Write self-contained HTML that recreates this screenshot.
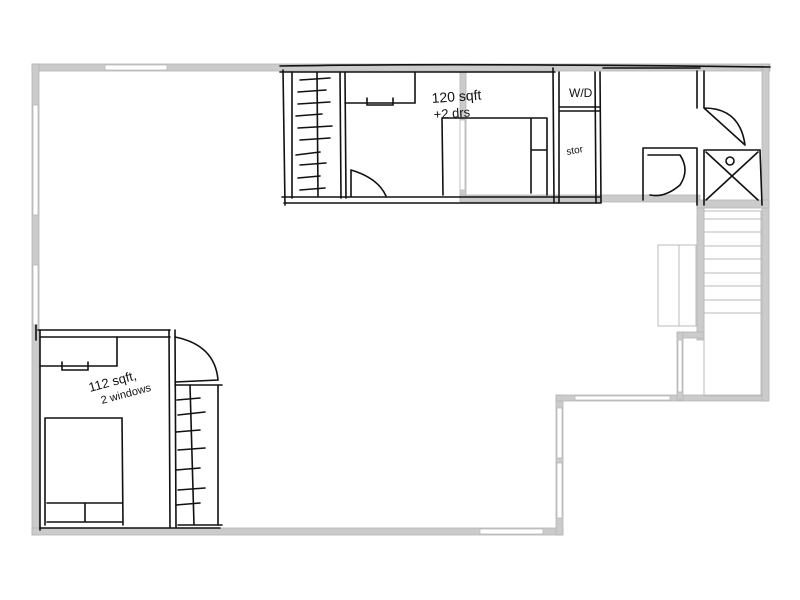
<!DOCTYPE html>
<html><head><style>
html,body{margin:0;padding:0;background:#fff;width:800px;height:600px;overflow:hidden}
svg{display:block}
text{font-family:"Liberation Sans",sans-serif;fill:#111}
</style></head><body>
<svg width="800" height="600" viewBox="0 0 800 600" xmlns="http://www.w3.org/2000/svg">
<g fill="#cbcbcb" stroke="#b5b5b5" stroke-width="0.8">
 <!-- outer walls -->
 <rect x="32" y="64" width="738" height="7"/>
 <rect x="32" y="64" width="7" height="471"/>
 <rect x="32" y="528" width="531" height="7"/>
 <rect x="556" y="395" width="7" height="140"/>
 <rect x="556" y="395" width="212" height="6"/>
 <rect x="762" y="64" width="7" height="337"/>
 <rect x="697" y="205" width="7" height="135"/>
 <rect x="677" y="332" width="27" height="6"/>
 <rect x="677" y="332" width="6" height="68"/>
 <rect x="460" y="71" width="6" height="130"/>
 <rect x="460" y="195" width="240" height="7"/>
 <rect x="697" y="200" width="72" height="8"/>
</g>
<g fill="#fff" stroke="#bbb" stroke-width="0.8">
 <rect x="105" y="65" width="62" height="5"/>
 <rect x="33" y="105" width="5" height="110"/>
 <rect x="33" y="265" width="5" height="60"/>
 <rect x="480" y="529" width="63" height="5"/>
 <rect x="557" y="408" width="5" height="50"/>
 <rect x="557" y="463" width="5" height="55"/>
 <rect x="575" y="396" width="95" height="4"/>
 <rect x="678" y="340" width="4" height="52"/>
 <rect x="460" y="120" width="5" height="70"/>
</g>
<!-- stairs -->
<g stroke="#bbb" fill="none" stroke-width="1">
 <rect x="704" y="211" width="57" height="185"/>
 <line x1="704" y1="219" x2="761" y2="219"/><line x1="704" y1="232" x2="761" y2="232"/>
 <line x1="704" y1="246" x2="761" y2="246"/><line x1="704" y1="259" x2="761" y2="259"/>
 <line x1="704" y1="273" x2="761" y2="273"/><line x1="704" y1="286" x2="761" y2="286"/>
 <line x1="704" y1="300" x2="761" y2="300"/><line x1="704" y1="313" x2="761" y2="313"/>
 <rect x="658" y="245" width="38" height="81"/>
 <line x1="679" y1="245" x2="679" y2="326"/>
</g>
<!-- sketch lines -->
<g stroke="#111" fill="none" stroke-width="1.6" stroke-linecap="round">
 <path d="M280 66 Q450 63 770 67"/><path d="M280 72 L555 72"/>
 <path d="M283 70 L285 205"/><path d="M292 72 L292 198"/>
 <path d="M340 72 L341 198 M345 72 L346 198"/>
 <path d="M282 197 L600 197 M284 203 L600 203"/>
 <path d="M300 80 L330 78 M298 92 L326 90 M298 104 L330 102 M296 116 L322 114 M298 128 L332 126 M300 140 L330 138 M296 155 L320 152 M300 165 L326 163 M298 178 L320 176 M300 190 L325 188"/>
 <path d="M317 72 L318 196"/>
 <path d="M345 103 L415 103 L415 72 M367 98 L367 105 L393 105 L393 98"/>
 <path d="M351 170 L351 196 M351 170 Q378 178 386 196"/>
 <path d="M442 118 L547 118 M442 118 L443 195 M547 118 L547 195 M531 118 L531 193 M531 150 L547 150"/>
 <path d="M553 68 L554 203 M559 72 L559 203"/>
 <path d="M560 107 L600 107 M560 111 L600 111"/>
 <path d="M595 72 L596 203 M600 72 L601 203"/>
 <path d="M603 68 L700 68"/>
 <path d="M697 71 L697 108 M704 71 L704 108 M704 108 L745 145 M704 108 Q740 108 745 145"/>
 <path d="M643 148 L697 148 M643 148 L643 200 M697 148 L697 205 M648 155 L680 155 Q690 170 680 185 Q665 198 650 195"/>
 <path d="M704 150 L760 150 L762 205 M704 150 L704 205 M706 152 L758 200 M758 152 L706 200"/>
 <circle cx="730" cy="161" r="4"/>
 <!-- bedroom 2 -->
 <path d="M38 330 L170 330 M40 337 L170 337"/>
 <path d="M40 330 L40 530 M36 325 L36 340"/>
 <path d="M169 330 L170 527 M175 330 L176 527"/>
 <path d="M175 337 Q215 345 218 380 L175 382 M175 385 L222 385 M218 385 L218 525"/>
 <path d="M190 385 L194 525 M178 525 L222 525"/>
 <path d="M177 400 L200 398 M178 415 L205 412 M176 432 L200 430 M178 450 L205 448 M176 470 L200 468 M178 490 L205 488 M176 505 L200 503"/>
 <path d="M40 366 L117 366 L117 337 M62 362 L62 370 L88 370 L88 362"/>
 <path d="M45 418 L122 418 L123 525 M45 418 L45 525 M47 503 L122 503 M85 503 L85 522 M47 522 L122 522"/>
 <path d="M40 528 L220 528"/>
</g>
<text x="432" y="103" font-size="14" transform="rotate(-4 432 103)">120 sqft</text>
<text x="434" y="119" font-size="13" transform="rotate(-4 434 119)">+2 drs</text>
<text x="569" y="97" font-size="12">W/D</text>
<text x="567" y="155" font-size="10" transform="rotate(-10 567 155)">stor</text>
<text x="90" y="392" font-size="13" transform="rotate(-15 90 392)">112 sqft,</text>
<text x="102" y="404" font-size="11" transform="rotate(-15 102 404)">2 windows</text>
</svg>
</body></html>
